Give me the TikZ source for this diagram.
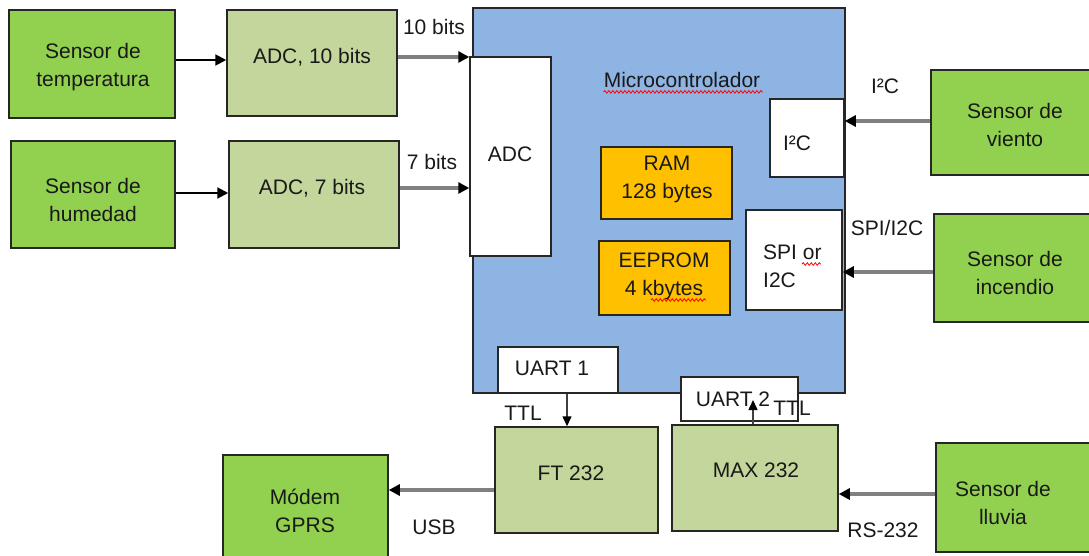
\documentclass[tikz,border=0pt]{standalone}
\usepackage{fontspec}
\setmainfont{Liberation Sans}
\usetikzlibrary{arrows.meta,decorations.pathmorphing}
\definecolor{sgreen}{HTML}{92D050}
\definecolor{lgreen}{HTML}{C3D69B}
\definecolor{mblue}{HTML}{8EB4E3}
\definecolor{morange}{HTML}{FFC000}
\begin{document}
\begin{tikzpicture}[x=1pt,y=-1pt,
  box/.style={draw=black!85, line width=1.5pt, inner sep=0pt},
  txt/.style={font=\fontsize{21}{28}\selectfont, align=center, inner sep=0pt, text=black!90},
  conn/.style={draw=black!50, line width=3.2pt, -{Triangle[length=11pt,width=11pt,color=black]}},
  connb/.style={draw=black, line width=2pt, -{Triangle[length=11pt,width=11pt]}},
  connt/.style={draw=black!75, line width=1.5pt, -{Triangle[length=10pt,width=9pt,color=black]}},
  squig/.style={draw=red, line width=0.8pt, decorate, decoration={snake,amplitude=1.3pt,segment length=4pt}}]
\useasboundingbox (0,0) rectangle (1089,556);
% boxes
\node[box, fill=sgreen, minimum width=166pt, minimum height=108pt] (stemp) at (92,64) {};
\node[box, fill=lgreen, minimum width=170pt, minimum height=106pt] (adc10) at (312,63) {};
\node[box, fill=sgreen, minimum width=164pt, minimum height=107pt] (shum) at (93,194.5) {};
\node[box, fill=lgreen, minimum width=170pt, minimum height=107pt] (adc7) at (314,194.5) {};
\node[box, fill=mblue, minimum width=372pt, minimum height=385pt] (micro) at (659,200.5) {};
\node[box, fill=white, minimum width=81pt, minimum height=199pt] (adcin) at (510.5,156.5) {};
\node[box, fill=white, minimum width=74pt, minimum height=78pt] (i2c) at (807,138) {};
\node[box, fill=morange, minimum width=131pt, minimum height=72pt] (ram) at (666.5,183) {};
\node[box, fill=morange, minimum width=131pt, minimum height=74pt] (eeprom) at (664.5,278) {};
\node[box, fill=white, minimum width=96pt, minimum height=100pt] (spi) at (794,260) {};
\node[box, fill=sgreen, minimum width=163pt, minimum height=105pt] (viento) at (1012.5,122.5) {};
\node[box, fill=sgreen, minimum width=160pt, minimum height=108pt] (incendio) at (1014,268) {};
\node[box, fill=white, minimum width=120pt, minimum height=46pt] (uart1) at (558,370) {};
\node[box, fill=white, minimum width=117pt, minimum height=44pt] (uart2) at (739.5,399) {};
\node[box, fill=lgreen, minimum width=163pt, minimum height=106pt] (ft232) at (576.5,480) {};
\node[box, fill=lgreen, minimum width=166pt, minimum height=106pt] (max232) at (755,478) {};
\node[box, fill=sgreen, minimum width=165pt, minimum height=105pt] (modem) at (305.5,507.5) {};
\node[box, fill=sgreen, minimum width=158pt, minimum height=109pt] (lluvia) at (1015,497.5) {};
% texts in boxes
\node[txt] (tstemp) at (93,67) {Sensor de\\temperatura};
\node[txt] (tadc10) at (312,57) {ADC, 10 bits};
\node[txt] (tshum) at (93,200) {Sensor de\\humedad};
\node[txt] (tadc7) at (312,188) {ADC, 7 bits};
\node[txt] (tmicro) at (682,80) {Microcontrolador};
\node[txt] (tadcin) at (510,154) {ADC};
\node[txt] (ti2c) at (797,143) {I²C};
\node[txt] (tram) at (667,179) {RAM\\128 bytes};
\node[txt] (teeprom) at (664,276) {EEPROM\\4 kbytes};
\node[txt, align=left, anchor=west] (tspi) at (763,266) {SPI or\\I2C};
\node[txt] (tviento) at (1015,125) {Sensor de\\viento};
\node[txt] (tincendio) at (1015,273) {Sensor de\\incendio};
\node[txt] (tuart1) at (552,368) {UART 1};
\node[txt] (tuart2) at (733,399) {UART 2};
\node[txt] (tft232) at (571,473) {FT 232};
\node[txt] (tmax232) at (756,470) {MAX 232};
\node[txt] (tmodem) at (305,511) {Módem\\GPRS};
\node[txt] (tlluvia) at (1003,503) {Sensor de\\lluvia};
% spell-check squiggles
\draw[squig] (tmicro.south west) ++(0,4) -- ++(159,0);
\draw[squig] (802,264) -- (821,264);
\draw[squig] (651,300) -- (706,300);
% connectors
\draw[connb] (stemp.east |- 0,60) -- (adc10.west |- 0,60);
\draw[connb] (shum.east |- 0,193) -- (adc7.west |- 0,193);
\draw[conn] (adc10.east |- 0,57) -- (adcin.west |- 0,57);
\draw[conn] (adc7.east |- 0,188) -- (adcin.west |- 0,188);
\draw[conn] (viento.west |- 0,121) -- (i2c.east |- 0,121);
\draw[conn] (incendio.west |- 0,272) -- (spi.east |- 0,272);
\draw[connt] (uart1.south -| 567,0) -- (ft232.north -| 567,0);
\coordinate (u2in) at (753,400);
\draw[connt] (max232.north -| 753,0) -- (u2in);
\draw[conn] (ft232.west |- 0,490) -- (modem.east |- 0,490);
\draw[conn] (lluvia.west |- 0,494) -- (max232.east |- 0,494);
% connector labels
\node[txt] (l10) at (434,27) {10 bits};
\node[txt] (l7) at (432,162) {7 bits};
\node[txt] (li2c) at (885,86) {I²C};
\node[txt] (lspi) at (887,228) {SPI/I2C};
\node[txt] (lttl1) at (523,413) {TTL};
\node[txt] (lttl2) at (792,408) {TTL};
\node[txt] (lusb) at (434,527) {USB};
\node[txt] (lrs) at (883,530) {RS-232};
\end{tikzpicture}
\end{document}
